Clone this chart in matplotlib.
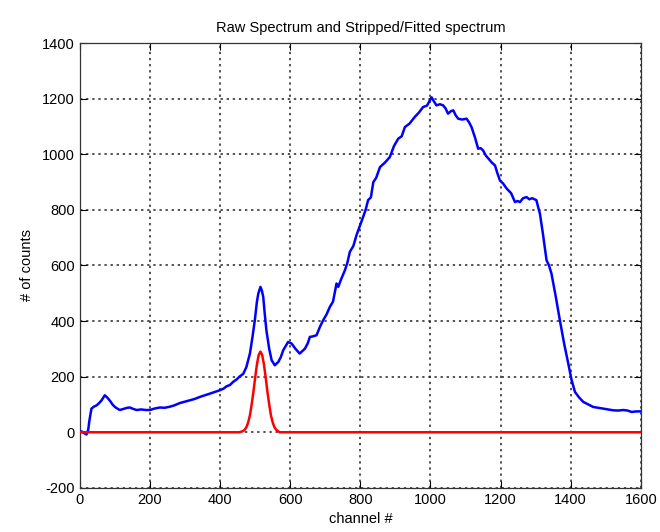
import matplotlib
matplotlib.use("Agg")
import matplotlib.pyplot as plt

# Raw spectrum (blue)
raw_channel = [0, 5, 12, 19, 24, 27, 33, 40, 48, 55, 62, 71, 78, 86, 93, 100, 107, 114, 125, 135,
               143, 152, 162, 175, 188, 200, 212, 228, 242, 257, 270, 285, 300, 314, 328, 342, 357,
               371, 385, 399, 410, 418, 428, 437, 447, 456, 466, 475, 485, 492, 499, 505, 509, 515,
               519, 523, 527, 532, 540, 547, 556, 566, 573, 580, 587, 594, 604, 615, 627, 642, 650,
               656, 665, 675, 685, 694, 704, 713, 722, 732, 737, 745, 756, 763, 770, 780, 789, 798,
               808, 815, 822, 830, 837, 845, 856, 870, 884, 896, 908, 918, 927, 940, 955, 967, 979,
               990, 1003, 1010, 1017, 1027, 1036, 1043, 1050, 1058, 1065, 1072, 1079, 1090, 1103,
               1110, 1117, 1127, 1136, 1143, 1150, 1158, 1165, 1175, 1184, 1190, 1198, 1207, 1217,
               1230, 1241, 1248, 1255, 1264, 1274, 1282, 1290, 1302, 1307, 1312, 1320, 1331, 1338,
               1345, 1357, 1369, 1381, 1393, 1402, 1412, 1424, 1436, 1450, 1464, 1478, 1493, 1507,
               1521, 1535, 1550, 1562, 1574, 1587, 1600]
raw_counts = [2, 3, -3, -8, 10, 40, 85, 92, 97, 105, 115, 133, 125, 113, 100, 91, 85, 80, 84, 88,
              89, 84, 80, 82, 80, 80, 85, 89, 88, 92, 97, 105, 110, 115, 120, 127, 133,
              139, 145, 151, 157, 165, 170, 181, 190, 201, 210, 235, 283, 340, 403, 470, 499, 523,
              510, 487, 430, 367, 300, 259, 241, 253, 270, 295, 310, 325, 319, 300, 283, 301, 320,
              343, 345, 349, 380, 403, 425, 451, 470, 535, 523, 550, 583, 610, 649, 670, 709, 740,
              775, 800, 835, 845, 900, 915, 954, 970, 990, 1030, 1056, 1065, 1098, 1110, 1134, 1150, 1170,
              1175, 1205, 1190, 1176, 1180, 1176, 1165, 1146, 1155, 1158, 1140, 1128, 1125, 1128,
              1115, 1098, 1060, 1020, 1022, 1014, 995, 985, 970, 960, 935, 906, 895, 877,
              860, 828, 832, 828, 842, 846, 838, 842, 835, 810, 787, 720, 619, 600,
              571, 490, 403, 320, 247, 190, 145, 125, 109, 100, 91, 88, 85, 82,
              79, 78, 80, 78, 73, 75, 75]

# Stripped / fitted spectrum (red)
fit_channel = [0, 455, 460, 465, 470, 475, 480, 485, 490, 495, 500, 505, 510, 515, 520, 525, 530,
               535, 540, 545, 550, 555, 560, 565, 570, 1600]
fit_counts = [0, 0, 2, 4, 9, 18, 35, 61, 100, 145, 197, 244, 278, 290, 278, 244, 197,
              145, 100, 61, 35, 18, 9, 4, 0, 0]

x_ticks = [0, 200, 400, 600, 800, 1000, 1200, 1400, 1600]
y_ticks = [-200, 0, 200, 400, 600, 800, 1000, 1200, 1400]

plt.rcParams['font.family'] = ['Liberation Sans', 'DejaVu Sans']
plt.rcParams['axes.unicode_minus'] = False

fig = plt.figure(figsize=(6.6, 5.32), dpi=100)
ax = fig.add_axes([0.121, 0.083, 0.850, 0.836])

ax.plot(raw_channel, raw_counts, color='#0000ff', linewidth=1.8, zorder=3)
ax.plot(fit_channel, fit_counts, color='#ff0000', linewidth=1.8, zorder=4)

ax.set_xlim(0, 1600)
ax.set_ylim(-200, 1400)
ax.set_xticks(x_ticks)
ax.set_yticks(y_ticks)
ax.tick_params(direction='in', top=True, right=True, labelsize=10.5, length=5, width=0.8)
ax.grid(True, color='#222222', linestyle=(0, (1.5, 2.5)), linewidth=1.1)
for s in ax.spines.values():
    s.set_linewidth(0.9)
    s.set_color('#333333')

ax.set_title('Raw Spectrum and Stripped/Fitted spectrum', fontsize=10.5, pad=8)
ax.set_xlabel('channel #', fontsize=10.5, labelpad=4)
ax.set_ylabel('# of counts', fontsize=10.5, labelpad=6)

fig.savefig('out.png', dpi=100)
